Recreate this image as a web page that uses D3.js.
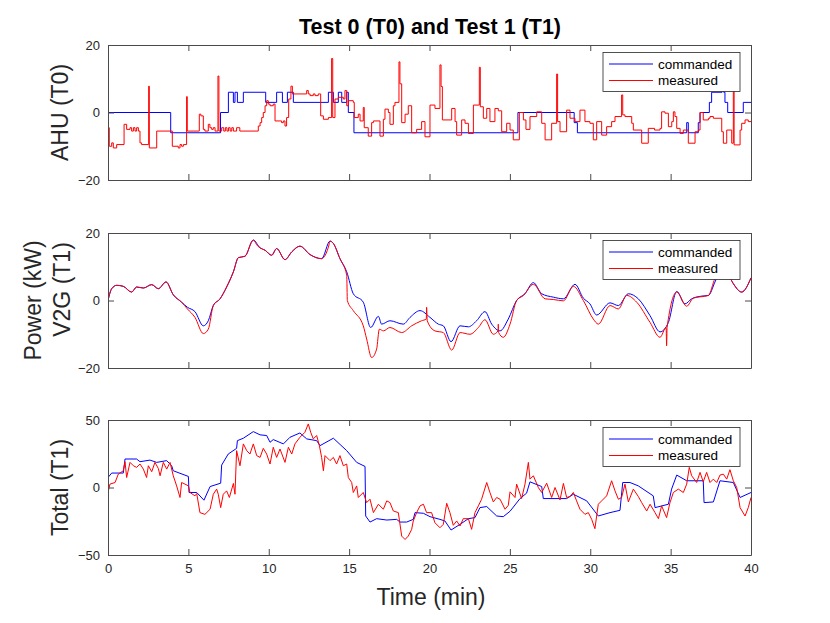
<!DOCTYPE html>
<html>
<head>
<meta charset="utf-8">
<script src="https://cdn.jsdelivr.net/npm/d3@7"></script>
<style>
  body { margin: 0; background: #fff; }
  svg { font-family: "Liberation Sans", Arial, Helvetica, sans-serif; }
  .tick text { fill: #262626; font-size: 13px; }
  .tick line, .domain { stroke: #4a4a4a; }
</style>
</head>
<body>
<svg id="chart" width="830" height="623"></svg>
<script>
// time axis (minutes)
var timeTicks = [0, 5, 10, 15, 20, 25, 30, 35, 40];
var seriesNames = ['commanded', 'measured'];

// Test 0 - AHU, [minute, value], held until next point
var ahuCommanded = [
  [0, 0], [3.9, -6], [7.0, 0], [7.49, 6], [7.8, 3], [7.9, 6], [8.05, 3], [8.42, 6],
  [9.81, 3], [10.49, 6], [10.85, 3], [11.16, 6], [11.53, 3], [13.71, 6], [14.02, 3],
  [14.33, 6], [14.54, 3], [14.85, 6], [14.95, 0], [15.3, -6], [25.5, 0], [29.0, -3],
  [29.2, -6], [36.0, -3], [36.1, -6], [36.72, -3], [36.83, 0], [37.41, 3], [37.55, 6],
  [38.2, 9], [38.3, 6], [38.38, 3], [38.55, 0], [39.52, 3], [40, 3]
];
var ahuMeasured = [
  [0, -4.5], [0.08, -10], [0.23, -9], [0.33, -10.5], [0.54, -9.5], [1.0, -3.5], [1.16, -5],
  [1.37, -4.5], [1.47, -5.5], [1.58, -4.5], [1.68, -5.5], [1.78, -4.5], [1.89, -5.5],
  [1.99, -9], [2.09, -9.5], [2.53, 7.8], [2.57, -10.5], [3.03, -5.5], [4.0, -10],
  [4.37, -10.5], [4.48, -9.5], [4.58, -10], [4.69, -9.5], [4.89, 4.7], [4.93, -5.5],
  [5.68, -0.5], [5.78, -1], [5.93, -5], [6.03, -5.5], [6.24, -3.5], [6.34, -4.5], [6.45, -5],
  [6.55, -4.5], [6.66, -5.5], [6.84, 10.8], [6.9, -5.5], [7.07, -4.5], [7.2, -5.5], [7.3, -4.5],
  [7.4, -5.5], [7.5, -4.5], [7.6, -5.5], [7.7, -4.5], [7.8, -5.5], [8.0, -4.5], [8.2, -5.5],
  [9.35, -4], [9.46, -3], [9.56, -1.5], [9.66, 0], [9.77, 2], [9.87, 3.5], [9.97, 2.5],
  [10.08, 2], [10.28, 2.5], [10.39, -2.5], [10.8, -3], [10.91, -2.5], [11.01, -4],
  [11.11, -1.5], [11.24, 4], [11.38, 7.8], [11.47, 5.5], [12.36, 6.5], [12.46, 5.5],
  [12.57, 5], [12.77, 5.5], [12.88, 5], [13.08, 5.5], [13.23, -1], [13.4, -2], [13.71, -1.5],
  [13.91, 16], [13.98, -1.5], [14.12, 4], [14.33, 4.5], [14.64, 4], [14.74, 6.5], [14.85, 2],
  [14.95, 3.5], [15.26, 3], [15.32, -1.5], [15.57, -0.5], [15.68, -2.5], [15.88, 1.5],
  [15.94, -4.5], [16.19, -7], [16.4, -3], [16.51, -2.5], [16.92, -7], [17.13, -2], [17.23, 1],
  [17.44, 0], [17.54, -3.5], [17.75, 2], [17.85, 3], [18.1, 15], [18.16, 8.5], [18.27, -3],
  [18.48, -0.5], [18.68, 2], [18.89, -6], [19.2, -5], [19.51, -2.7], [19.72, -7.2],
  [20.03, 2.2], [20.34, 1.2], [20.65, 14.1], [20.72, 7.7], [20.8, -2.2], [21.38, 1.2],
  [21.59, -2.7], [21.69, -6.7], [22.0, -2.2], [22.21, -3.2], [22.42, -6.2], [22.73, 2.2],
  [23.1, 13.4], [23.16, 1.7], [23.35, -1.7], [23.56, 1.2], [23.76, -2.7], [24.07, 1.2],
  [24.28, 0.5], [24.49, -5.7], [24.8, -3.2], [25.01, -5.2], [25.21, -8.1], [25.59, 0],
  [25.84, -2.2], [26.0, -5.0], [26.25, -1.2], [26.67, 0.2], [26.98, -3.2], [27.19, -8.1],
  [27.6, -3.2], [27.91, 11.4], [27.97, -2.7], [28.12, -5.7], [28.53, 0.7], [28.74, -1.7],
  [29.05, -2.7], [29.36, 0.7], [29.67, -2.7], [29.98, -3.2], [30.19, -8.1], [30.4, -2.7],
  [30.71, -6.7], [31.02, -4.2], [31.33, -2.7], [31.54, -1.2], [31.95, 5.2], [32.02, -0.7],
  [32.16, -1.2], [32.58, -3.2], [32.68, -5.2], [33.2, -9.1], [33.61, -4.7], [34.0, -5.2],
  [34.34, -4.7], [34.44, 0.2], [34.65, -0.2], [34.86, -4.2], [35.07, -2.7], [35.17, 0.2],
  [35.27, -1.2], [35.38, -4.7], [35.59, -6.2], [35.79, -5.2], [36.1, -9.1], [36.52, -5.7],
  [36.72, -5.2], [36.83, 0], [37.03, -2.2], [37.35, -1.7], [37.45, -1.2], [37.66, -1.7],
  [38.18, -5.7], [38.28, -9.1], [38.49, -5.2], [38.8, -9.1], [38.9, 10], [38.95, -9.6],
  [39.32, -5.2], [39.42, -3.2], [39.63, -2.2], [39.83, -2.7], [40, -2.7]
];

// Test 1 - V2G power (kW)
var v2gCommanded = [
  [0, 0], [0.23, 3.5], [0.54, 4.5], [0.95, 4.2], [1.47, 2.5], [1.78, 4.0], [2.2, 3.7],
  [2.72, 4.7], [3.13, 3.5], [3.61, 5.5], [4.06, 1.7], [4.58, -0.5], [4.94, -2.0],
  [5.41, -3.3], [5.93, -7.5], [6.24, -6.0], [6.55, -1.5], [6.97, 0.5], [7.38, 4.0],
  [7.8, 8.5], [8.11, 12.7], [8.52, 13.1], [9.04, 17.9], [9.46, 15.6], [9.77, 14.9],
  [10.18, 13.4], [10.49, 15.4], [11.01, 12.1], [11.43, 14.4], [11.94, 16.1], [12.57, 13.6],
  [13.29, 12.4], [13.81, 17.6], [14.02, 16.9], [14.43, 12.4], [14.85, 8.5], [15.26, 2.0],
  [15.88, -0.5], [16.34, -8.0], [16.82, -4.7], [17.02, -7.0], [17.54, -6.0], [18.37, -7.0],
  [18.79, -5.0], [19.41, -3.0], [20.03, -5.0], [20.55, -7.0], [20.86, -7.5], [21.34, -12.2],
  [21.9, -7.5], [22.42, -7.8], [22.93, -6.0], [23.45, -3.3], [23.87, -7.0], [24.39, -9.0],
  [24.9, -5.5], [25.42, 0], [25.94, 2.0], [26.46, 5.3], [26.98, 2.0], [27.7, 1.0],
  [28.33, 0.5], [29.05, 4.8], [29.57, 0.7], [29.98, -1.0], [30.4, -4.3], [31.23, -0.7],
  [31.75, -1.5], [32.37, 2.0], [32.99, 0.5], [33.72, -4.5], [34.34, -9.3], [34.86, -6.5],
  [35.38, 2.7], [35.89, -1.0], [36.31, 0.5], [36.93, 1.3], [37.35, 1.5], [37.76, 5.5],
  [38.0, 8], [38.3, 9], [38.6, 7.5], [38.9, 5.0], [39.42, 2.5], [40, 6.7]
];
var v2gMeasured = [
  [0, 0], [0.23, 3.5], [0.54, 4.5], [0.95, 4.2], [1.47, 2.5], [1.78, 4.0], [2.2, 3.7],
  [2.72, 4.7], [3.13, 3.5], [3.61, 5.5], [4.06, 1.7], [4.58, -0.5], [4.94, -2.5],
  [5.41, -5.0], [5.93, -9.8], [6.24, -8.5], [6.55, -1.5], [6.97, 0.5], [7.38, 4.0],
  [7.8, 8.5], [8.11, 12.7], [8.52, 13.1], [9.04, 17.9], [9.3, 16.2], [9.46, 15.6], [9.77, 14.9],
  [10.18, 13.4], [10.49, 15.4], [11.01, 12.1], [11.43, 14.4], [11.94, 16.1], [12.57, 13.6],
  [13.29, 12.4], [13.75, 16.5], [13.81, 17.6], [14.02, 16.9], [14.43, 12.4], [14.85, 7.5],
  [14.89, 0], [15.26, -3.0], [15.88, -7.5], [16.09, -11.4], [16.4, -16.9], [16.71, -14.4],
  [16.88, -8.5], [17.13, -9.0], [17.54, -8.0], [18.27, -9.5], [18.89, -7.5], [19.51, -6.0],
  [19.8, -5.5], [19.82, -2], [19.86, -6.0], [20.34, -9.0], [20.86, -9.5], [21.38, -14.7],
  [21.9, -9.5], [22.52, -10.0], [23.04, -8.0], [23.45, -5.7], [23.97, -10.0], [24.26, -9.0],
  [24.28, -7.0], [24.3, -9.5], [24.59, -10.9], [25.01, -7.0], [25.42, 0], [25.84, 1.5],
  [26.46, 4.8], [27.19, 0.5], [27.7, 0.3], [28.33, -0.1], [28.95, 4.2], [29.57, 0],
  [30.19, -5.5], [30.5, -7.0], [31.23, -1.5], [31.75, -2.5], [32.27, 1.5], [32.89, -0.5],
  [33.72, -6.5], [34.34, -10.9], [34.72, -8.0], [34.75, -13.4], [34.78, -8.0], [35.38, 2.5],
  [36.0, -1.7], [36.41, 0.7], [37.35, 1.5], [37.76, 6.5], [38.0, 8], [38.3, 9], [38.6, 7.5],
  [38.9, 5.0], [39.42, 2.5], [40, 6.7]
];

// Test 1 - total
var totalCommanded = [
  [0, 7.4], [0.23, 10.7], [0.95, 10.7], [1.06, 21.1], [1.78, 21.1], [1.99, 19.1],
  [2.61, 20.3], [3.03, 18.6], [3.65, 19.9], [3.96, 16.1], [4.06, 12.4], [5.0, 8.2],
  [5.04, -3.7], [5.52, -3.7], [5.97, -9.4], [6.35, 0.7], [7.01, 3.2], [7.07, 16.6],
  [7.48, 24.8], [8.0, 29.0], [8.05, 34.7], [8.42, 36.5], [9.04, 41.4], [9.46, 39.0],
  [9.87, 38.5], [10.08, 33.5], [10.28, 35.5], [10.91, 32.3], [11.32, 37.2], [11.94, 40.4],
  [12.36, 36.0], [12.98, 34.7], [13.19, 31.0], [14.02, 36.5], [14.85, 27.3], [15.47, 18.6],
  [15.99, 15.6], [16.03, -21.1], [16.3, -25.6], [16.71, -23.1], [17.34, -24.1],
  [17.96, -23.6], [18.16, -25.6], [18.58, -25.6], [18.99, -23.6], [19.1, -18.6],
  [19.62, -19.1], [20.03, -21.6], [20.65, -23.6], [20.96, -24.8], [21.34, -31.5],
  [21.9, -27.3], [22.42, -23.1], [22.83, -22.3], [23.14, -14.9], [23.56, -14.1],
  [24.18, -21.1], [24.59, -21.6], [25.01, -17.6], [25.63, -8.2], [26.04, -4.2], [26.25, 4.2],
  [26.98, 0.7], [27.08, -8.2], [28.53, -8.2], [28.95, -5.0], [29.78, -9.9], [30.5, -21.1],
  [31.23, -18.6], [31.85, -16.9], [32.02, 3.7], [32.47, 3.7], [32.99, 1.2], [33.92, -6.2],
  [34.03, -14.9], [34.86, -12.4], [35.06, -1.2], [35.38, 9.2], [36.0, 5.0], [37.03, 5.0],
  [37.08, -11.2], [37.66, -10.7], [38.07, 5.0], [38.9, 3.7], [39.32, -7.4], [40, -3.7]
];
var totalMeasured = [
  [0, -3.7], [0.12, 2.5], [0.44, 3.7], [0.64, 9.9], [0.95, 12.4], [1.06, 19.1], [1.16, 7.4],
  [1.37, 18.6], [1.58, 16.1], [1.78, 14.9], [1.99, 17.4], [2.2, 13.6], [2.4, 7.4],
  [2.51, 16.1], [2.72, 11.7], [2.92, 18.6], [3.13, 14.1], [3.24, 8.7], [3.44, 18.6],
  [3.65, 13.6], [3.86, 18.6], [4.06, 8.7], [4.27, 1.2], [4.48, -7.4], [4.58, 3.7],
  [4.79, 2.5], [5.0, 1.2], [5.1, -3.7], [5.41, -6.2], [5.52, -4.5], [5.72, -18.6],
  [6.03, -19.9], [6.35, -16.1], [6.55, -5.0], [6.76, -1.2], [6.86, -5.0], [7.01, -14.9],
  [7.17, -5.0], [7.38, -2.5], [7.55, -7.4], [7.8, 3.0], [7.9, -5.0], [8.0, 27.3], [8.21, 16.1],
  [8.42, 32.3], [8.63, 27.3], [8.83, 24.8], [9.04, 32.3], [9.25, 23.6], [9.46, 22.3],
  [9.66, 29.0], [9.87, 24.8], [10.08, 17.4], [10.28, 29.8], [10.49, 22.3], [10.7, 28.5],
  [11.01, 18.6], [11.22, 29.8], [11.43, 24.8], [11.63, 32.3], [11.94, 37.2], [12.25, 40.9],
  [12.46, 47.1], [12.61, 40.9], [12.77, 36.0], [12.98, 38.5], [13.15, 31.0], [13.29, 22.3],
  [13.4, 12.4], [13.5, 23.6], [13.81, 19.9], [14.02, 22.3], [14.22, 17.4], [14.43, 23.6],
  [14.64, 16.1], [14.85, 17.4], [14.95, 7.4], [15.16, 3.7], [15.26, -3.7], [15.47, 1.2],
  [15.57, -7.4], [15.88, -3.7], [16.09, -11.2], [16.3, -8.7], [16.51, -18.6], [16.82, -12.4],
  [17.13, -16.1], [17.34, -9.9], [17.54, -11.2], [17.75, -17.4], [18.06, -18.6],
  [18.27, -36.0], [18.48, -38.5], [18.68, -36.0], [18.89, -31.0], [18.99, -24.8],
  [19.2, -18.6], [19.41, -13.6], [19.62, -12.4], [19.82, -18.6], [20.13, -18.6],
  [20.34, -26.1], [20.65, -29.8], [20.86, -27.3], [21.07, -11.7], [21.27, -18.6],
  [21.48, -28.0], [21.69, -24.8], [21.9, -28.5], [22.1, -23.1], [22.42, -23.1], [22.62, -31.0],
  [22.83, -18.6], [23.04, -13.6], [23.24, -8.7], [23.56, 3.7], [23.76, -3.7], [23.97, -10.7],
  [24.18, -7.4], [24.39, -8.7], [24.7, -16.1], [24.9, -13.2], [25.01, -3.2], [25.32, -7.4],
  [25.42, 2.5], [25.73, -8.2], [25.94, 2.5], [26.15, 18.6], [26.25, 6.2], [26.46, 8.7],
  [26.77, 0], [26.98, -3.7], [27.29, 3.2], [27.6, -7.4], [27.81, 0], [28.12, -9.2], [28.33, 3.0],
  [28.53, -7.4], [28.74, -6.7], [28.95, -3.7], [29.15, -9.9], [29.36, -16.1], [29.67, -19.9],
  [29.88, -18.6], [30.09, -23.6], [30.29, -30.5], [30.5, -12.4], [30.71, -9.9], [31.02, -6.2],
  [31.33, 5.0], [31.54, -2.5], [31.75, -8.7], [31.95, -7.4], [32.16, 2.5], [32.37, -10.7],
  [32.68, -1.2], [32.99, -6.7], [33.2, -11.2], [33.51, -17.4], [33.72, -12.4], [34.03, -18.6],
  [34.24, -23.1], [34.44, -13.6], [34.75, -22.3], [34.96, -11.2], [35.17, -3.7], [35.48, -1.2],
  [35.79, -3.7], [36.0, 2.5], [36.16, 14.9], [36.31, 8.7], [36.62, 3.7], [36.83, 11.2],
  [37.03, 4.2], [37.24, 11.2], [37.45, 3.7], [37.66, 6.2], [37.87, 3.7], [38.07, 9.2],
  [38.28, 9.9], [38.49, 6.2], [38.69, 13.2], [38.9, 5.0], [39.11, 0], [39.32, -14.9],
  [39.63, -21.1], [39.83, -14.9], [40, -7.4]
];

var colors = { commanded: '#0000ff', measured: '#ff0000' };

var svg = d3.select('#chart');
var x = d3.scaleLinear().domain([0, 40]).range([108, 751]);

// one entry per subplot; AHU is stepped, the power trace is smooth
var panels = [
  { top: 45, bottom: 180, domain: [-20, 20], ticks: [-20, 0, 20],
    cmd: ahuCommanded, meas: ahuMeasured, curve: d3.curveStepAfter,
    labels: [{ text: 'AHU (T0)', x: 68, dy: 0 }] },
  { top: 233, bottom: 368, domain: [-20, 20], ticks: [-20, 0, 20],
    cmd: v2gCommanded, meas: v2gMeasured, curve: d3.curveMonotoneX,
    labels: [{ text: 'Power (kW)', x: 41, dy: 0 }, { text: 'V2G (T1)', x: 70, dy: -11 }] },
  { top: 420, bottom: 555, domain: [-50, 50], ticks: [-50, 0, 50],
    cmd: totalCommanded, meas: totalMeasured, curve: d3.curveLinear,
    labels: [{ text: 'Total (T1)', x: 68, dy: 0 }] }
];

panels.forEach(function (p, i) {
  var y = d3.scaleLinear().domain(p.domain).range([p.bottom, p.top]);
  var g = svg.append('g');
  var clipId = 'clip' + i;

  g.append('clipPath').attr('id', clipId)
    .append('rect')
    .attr('x', x(0)).attr('y', p.top)
    .attr('width', x(40) - x(0)).attr('height', p.bottom - p.top);

  var line = d3.line()
    .x(function (d) { return x(d[0]); })
    .y(function (d) { return y(d[1]); })
    .curve(p.curve);

  // commanded first, measured drawn over it
  [['commanded', p.cmd], ['measured', p.meas]].forEach(function (s) {
    g.append('path')
      .attr('clip-path', 'url(#' + clipId + ')')
      .attr('d', line(s[1]))
      .attr('fill', 'none')
      .attr('stroke', colors[s[0]])
      .attr('stroke-width', 1);
  });

  // box with inward ticks on all four sides
  var isLast = i === panels.length - 1;
  g.append('g').attr('transform', 'translate(0,' + p.bottom + ')')
    .call(d3.axisBottom(x).tickValues(timeTicks).tickSize(-6).tickSizeOuter(0)
      .tickPadding(9).tickFormat(isLast ? d3.format('d') : function () { return ''; }));
  g.append('g').attr('transform', 'translate(0,' + p.top + ')')
    .call(d3.axisTop(x).tickValues(timeTicks).tickSize(-6).tickSizeOuter(0)
      .tickFormat(function () { return ''; }));
  g.append('g').attr('transform', 'translate(' + x(0) + ',0)')
    .call(d3.axisLeft(y).tickValues(p.ticks).tickSize(-6).tickSizeOuter(0)
      .tickPadding(8).tickFormat(d3.format('d')));
  g.append('g').attr('transform', 'translate(' + x(40) + ',0)')
    .call(d3.axisRight(y).tickValues(p.ticks).tickSize(-6).tickSizeOuter(0)
      .tickFormat(function () { return ''; }));

  g.selectAll('.tick text').attr('font-family', null).attr('font-size', null);

  // y labels
  var cy = (p.top + p.bottom) / 2;
  p.labels.forEach(function (l) {
    g.append('text')
      .attr('transform', 'translate(' + l.x + ',' + (cy + l.dy) + ') rotate(-90)')
      .attr('text-anchor', 'middle')
      .attr('font-size', 23)
      .attr('fill', '#262626')
      .text(l.text);
  });

  // legend
  var lg = g.append('g').attr('transform', 'translate(603,' + (p.top + 7.5) + ')');
  lg.append('rect').attr('width', 137).attr('height', 39)
    .attr('fill', '#fff').attr('stroke', '#262626').attr('stroke-width', 0.8);
  seriesNames.forEach(function (name, k) {
    var ly = 11.5 + k * 16.5;
    lg.append('line').attr('x1', 6).attr('x2', 50).attr('y1', ly).attr('y2', ly)
      .attr('stroke', colors[name]).attr('stroke-width', 1);
    lg.append('text').attr('x', 55).attr('y', ly).attr('dy', '0.35em')
      .attr('font-size', 13.5).attr('fill', '#000').text(name);
  });
});

svg.append('text')
  .attr('x', 430).attr('y', 34)
  .attr('text-anchor', 'middle')
  .attr('font-size', 21.5).attr('font-weight', 'bold')
  .text('Test 0 (T0) and Test 1 (T1)');

svg.append('text')
  .attr('x', 431).attr('y', 605)
  .attr('text-anchor', 'middle')
  .attr('font-size', 23).attr('fill', '#262626')
  .text('Time (min)');
</script>
</body>
</html>
